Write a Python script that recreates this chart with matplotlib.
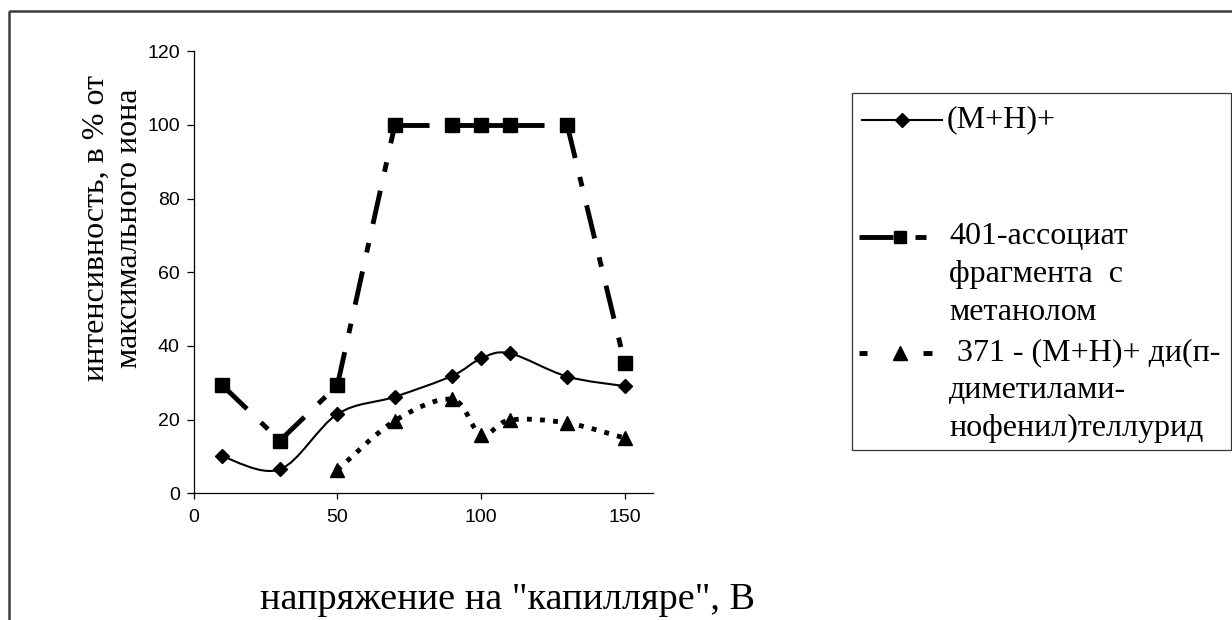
import numpy as np
import matplotlib
matplotlib.use("Agg")
import matplotlib.pyplot as plt
from matplotlib.path import Path
from matplotlib.patches import PathPatch, Rectangle

# Capillary voltage, V
voltage = [10, 30, 50, 70, 90, 100, 110, 130, 150]
# (M+H)+ ion intensity, % of the base peak
mh_ion = [10.0, 6.5, 21.5, 26.2, 31.9, 36.6, 38.0, 31.7, 29.1]
# m/z 401 methanol associate of the fragment
assoc_401 = [29.3, 14.3, 29.3, 100, 100, 100, 100, 100, 35.4]
# m/z 371 (M+H)+ of di(p-dimethylaminophenyl) telluride
voltage_371 = [50, 70, 90, 100, 110, 130, 150]
ion_371 = [6.3, 19.7, 25.5, 15.8, 19.9, 19.1, 15.0]

series_labels = [
    "(M+H)+",
    "401-ассоциат\nфрагмента  с\nметанолом",
    " 371 - (M+H)+ ди(п-\nдиметилами-\nнофенил)теллурид",
]
x_ticks = [0, 50, 100, 150]
y_ticks = [0, 20, 40, 60, 80, 100, 120]
x_title = 'напряжение на "капилляре", В'
y_title = "интенсивность, в % от\nмаксимального иона"

SERIF = "Liberation Serif"
SANS = "Liberation Sans"
W, H = 1232, 620


def smooth_path(xs, ys):
    """Bezier spline through the points (Excel-style smoothed line)."""
    pts = np.column_stack([xs, ys]).astype(float)
    n = len(pts)
    verts = [pts[0]]
    codes = [Path.MOVETO]
    for i in range(n - 1):
        p0 = pts[max(i - 1, 0)]
        p1 = pts[i]
        p2 = pts[i + 1]
        p3 = pts[min(i + 2, n - 1)]
        verts += [p1 + (p2 - p0) / 6.0, p2 - (p3 - p1) / 6.0, p2]
        codes += [Path.CURVE4] * 3
    return Path(verts, codes)


fig = plt.figure(figsize=(W / 100, H / 100), dpi=100)
fig.patch.set_facecolor("white")

ax_l, ax_r, ax_b, ax_t = 193.7, 653.4, 493.3, 51.3
ax = fig.add_axes([ax_l / W, 1 - ax_b / H, (ax_r - ax_l) / W, (ax_b - ax_t) / H])
ax.set_xlim(0, 160)
ax.set_ylim(0, 120)
ax.set_facecolor("none")
for side in ("top", "right"):
    ax.spines[side].set_visible(False)
for side in ("left", "bottom"):
    ax.spines[side].set_color("black")
    ax.spines[side].set_linewidth(0.9)
ax.set_xticks(x_ticks)
ax.set_yticks(y_ticks)
ax.set_xticklabels([str(v) for v in x_ticks], fontfamily=SANS, fontsize=14)
ax.set_yticklabels([str(v) for v in y_ticks], fontfamily=SANS, fontsize=14)
ax.tick_params(axis="y", direction="out", length=5, width=0.9, pad=5)
ax.tick_params(axis="x", direction="out", length=4, width=0.9, pad=7.5)

# (M+H)+ : thin smoothed solid line with diamonds
ax.add_patch(PathPatch(smooth_path(voltage, mh_ion), fill=False,
                       edgecolor="black", linewidth=1.5, zorder=3))
ax.plot(voltage, mh_ion, linestyle="none", marker="D", markersize=7.5,
        color="black", zorder=5)

# 401 associate : heavy long-dash / short-dash broken line with squares,
# the dash pattern restarting at every data point
dash_401 = (0, (7, 4, 2, 4))
for i in range(len(voltage) - 1):
    ax.plot(voltage[i:i + 2], assoc_401[i:i + 2], color="black", linewidth=3.5,
            linestyle=dash_401, dash_capstyle="butt", zorder=3)
ax.plot(voltage, assoc_401, linestyle="none", marker="s", markersize=9.5,
        color="black", zorder=5)

# 371 ion : heavy square-dot smoothed line with triangles
ax.add_patch(PathPatch(smooth_path(voltage_371, ion_371), fill=False,
                       edgecolor="black", linewidth=3.5, linestyle=(0, (1, 1.7)),
                       capstyle="butt", zorder=3))
ax.plot(voltage_371, ion_371, linestyle="none", marker="^", markersize=10.5,
        color="black", zorder=5)

# Overlay in pixel units for the frame, titles and legend
ov = fig.add_axes([0, 0, 1, 1])
ov.set_xlim(0, W)
ov.set_ylim(H, 0)
ov.axis("off")
ov.set_facecolor("none")

ov.add_patch(Rectangle((9, 10.5), W + 20, H + 20, fill=False,
                       edgecolor="#3a3a3a", linewidth=1.8))

ov.text(113, 228, y_title, rotation=90, ha="center", va="center",
        multialignment="center", fontfamily=SERIF, fontsize=23, linespacing=1.22)
ov.text(507, 600, x_title, ha="center", va="center", fontfamily=SERIF, fontsize=27.5)

# Legend
ov.add_patch(Rectangle((852, 93), 1231 - 852, 450 - 93, fill=False,
                       edgecolor="#333333", linewidth=0.9))
LEG_FS = 23
LINE_STEP = 37.5

y1 = 120
ov.plot([862, 942], [y1, y1], color="black", linewidth=1.5)
ov.plot([902], [y1], marker="D", markersize=7, color="black", linestyle="none")
ov.text(947, y1, series_labels[0], fontfamily=SERIF, fontsize=LEG_FS,
        va="center", ha="left")

y2 = 237
ov.plot([859, 893], [y2, y2], color="black", linewidth=3.5, solid_capstyle="butt")
ov.plot([915, 926], [y2, y2], color="black", linewidth=3.5, solid_capstyle="butt")
ov.plot([900], [y2], marker="s", markersize=9, color="black", linestyle="none")
for k, s in enumerate(series_labels[1].split("\n")):
    ov.text(949, y2 + LINE_STEP * k, s, fontfamily=SERIF, fontsize=LEG_FS,
            va="center", ha="left")

y3 = 353
ov.plot([859, 867], [y3, y3], color="black", linewidth=3.5, solid_capstyle="butt")
ov.plot([923, 932], [y3, y3], color="black", linewidth=3.5, solid_capstyle="butt")
ov.plot([900], [y3], marker="^", markersize=10, color="black", linestyle="none")
for k, s in enumerate(series_labels[2].split("\n")):
    ov.text(949, y3 + LINE_STEP * k, s, fontfamily=SERIF, fontsize=LEG_FS,
            va="center", ha="left")

fig.savefig("out.png", dpi=100, facecolor="white")
